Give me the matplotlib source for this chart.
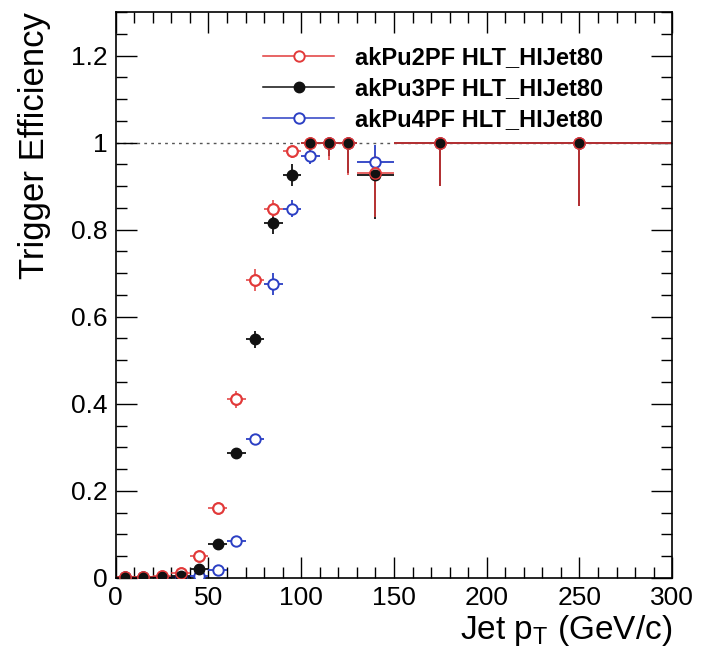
import matplotlib
matplotlib.use("Agg")
import matplotlib.pyplot as plt
from matplotlib.lines import Line2D
from matplotlib.ticker import MultipleLocator

plt.rcParams["font.family"] = ["Liberation Sans", "DejaVu Sans"]

# bin centres and half widths (GeV/c)
pt = [5, 15, 25, 35, 45, 55, 65, 75, 85, 95, 105, 115, 125, 140, 175, 250]
pt_halfwidth = [5, 5, 5, 5, 5, 5, 5, 5, 5, 5, 5, 5, 5, 10, 25, 50]

eff_ak2 = [0.003, 0.002, 0.005, 0.012, 0.05, 0.16, 0.41, 0.685, 0.848, 0.98, 1.0, 1.0, 1.0, 0.93, 1.0, 1.0]
err_lo_ak2 = [0.002, 0.002, 0.002, 0.004, 0.008, 0.012, 0.02, 0.025, 0.02, 0.015, 0.02, 0.04, 0.075, 0.1, 0.1, 0.145]
err_hi_ak2 = [0.002, 0.002, 0.002, 0.004, 0.008, 0.012, 0.02, 0.025, 0.02, 0.012, 0.0, 0.0, 0.0, 0.04, 0.0, 0.0]

eff_ak3 = [0.002, 0.002, 0.003, 0.005, 0.02, 0.077, 0.287, 0.548, 0.815, 0.925, 1.0, 1.0, 1.0, 0.925, 1.0, 1.0]
err_lo_ak3 = [0.002, 0.002, 0.002, 0.003, 0.006, 0.01, 0.012, 0.02, 0.025, 0.025, 0.02, 0.03, 0.07, 0.1, 0.1, 0.145]
err_hi_ak3 = [0.002, 0.002, 0.002, 0.003, 0.006, 0.01, 0.012, 0.02, 0.025, 0.025, 0.0, 0.0, 0.0, 0.04, 0.0, 0.0]

eff_ak4 = [0.001, 0.001, 0.001, 0.002, 0.005, 0.018, 0.085, 0.318, 0.675, 0.848, 0.97, 1.0, 1.0, 0.955, 1.0, 1.0]
err_lo_ak4 = [0.001, 0.001, 0.001, 0.002, 0.004, 0.006, 0.01, 0.012, 0.025, 0.02, 0.02, 0.03, 0.07, 0.04, 0.1, 0.145]
err_hi_ak4 = [0.001, 0.001, 0.001, 0.002, 0.004, 0.006, 0.01, 0.012, 0.025, 0.02, 0.02, 0.0, 0.0, 0.04, 0.0, 0.0]

labels = ["akPu2PF HLT_HIJet80", "akPu3PF HLT_HIJet80", "akPu4PF HLT_HIJet80"]
RED = "#e23a3a"
BLACK = "#111111"
BLUE = "#2b3fc4"

fig = plt.figure(figsize=(7.01, 6.65), dpi=100)
ax = fig.add_axes([0.165, 0.131, 0.794, 0.851])

ax.axhline(1.0, color="#555555", linestyle=(0, (2, 3)), linewidth=1.0, zorder=1)

ms = 7.5
# error bars first, markers on top so the crosses stop at the open circles
ax.errorbar(pt, eff_ak4, xerr=pt_halfwidth, yerr=[err_lo_ak4, err_hi_ak4], fmt="none",
            ecolor=BLUE, elinewidth=1.3, capsize=0, zorder=2)
ax.errorbar(pt, eff_ak3, xerr=pt_halfwidth, yerr=[err_lo_ak3, err_hi_ak3], fmt="none",
            ecolor=BLACK, elinewidth=1.3, capsize=0, zorder=2)
ax.errorbar(pt, eff_ak2, xerr=pt_halfwidth, yerr=[err_lo_ak2, err_hi_ak2], fmt="none",
            ecolor=RED, elinewidth=1.1, capsize=0, zorder=2)

ax.plot(pt, eff_ak4, "o", ls="none", mfc="white", mec=BLUE, mew=1.4, ms=ms, zorder=3)
ax.plot(pt, eff_ak2, "o", ls="none", mfc="white", mec=RED, mew=1.4, ms=ms, zorder=4)
ax.plot(pt, eff_ak3, "o", ls="none", mfc=BLACK, mec=BLACK, ms=ms, zorder=5)
ax.plot(pt, eff_ak2, "o", ls="none", mfc="none", mec=RED, mew=1.0, ms=ms + 0.6, zorder=6)

ax.set_xlim(0, 300)
ax.set_ylim(0, 1.3)
ax.xaxis.set_major_locator(MultipleLocator(50))
ax.xaxis.set_minor_locator(MultipleLocator(10))
ax.yaxis.set_major_locator(MultipleLocator(0.2))
ax.yaxis.set_minor_locator(MultipleLocator(0.05))
ax.set_yticks([0, 0.2, 0.4, 0.6, 0.8, 1.0, 1.2])
ax.set_yticklabels(["0", "0.2", "0.4", "0.6", "0.8", "1", "1.2"])
ax.tick_params(which="both", direction="in", top=True, right=True, width=1.0, labelsize=19)
ax.tick_params(which="major", length=15, pad=6)
ax.tick_params(which="minor", length=8)
for spine in ax.spines.values():
    spine.set_linewidth(1.2)

ax.set_ylabel("Trigger Efficiency", fontsize=25, loc="top", labelpad=14)
ax.set_xlabel(r"Jet p$_\mathregular{T}$ (GeV/c)", fontsize=24, loc="right", labelpad=2)

handles = [
    Line2D([0], [0], color=RED, marker="o", mfc="white", mec=RED, mew=1.4, ms=ms, lw=1.1),
    Line2D([0], [0], color=BLACK, marker="o", mfc=BLACK, ms=ms, lw=1.1),
    Line2D([0], [0], color=BLUE, marker="o", mfc="white", mec=BLUE, mew=1.4, ms=ms, lw=1.1),
]
ax.legend(handles, labels, loc="upper left", bbox_to_anchor=(0.24, 0.965), frameon=False,
          prop={"size": 17, "weight": "bold"}, handlelength=3.0, handletextpad=0.9,
          labelspacing=0.35, borderaxespad=0.2)

fig.savefig("out.png", dpi=100)
